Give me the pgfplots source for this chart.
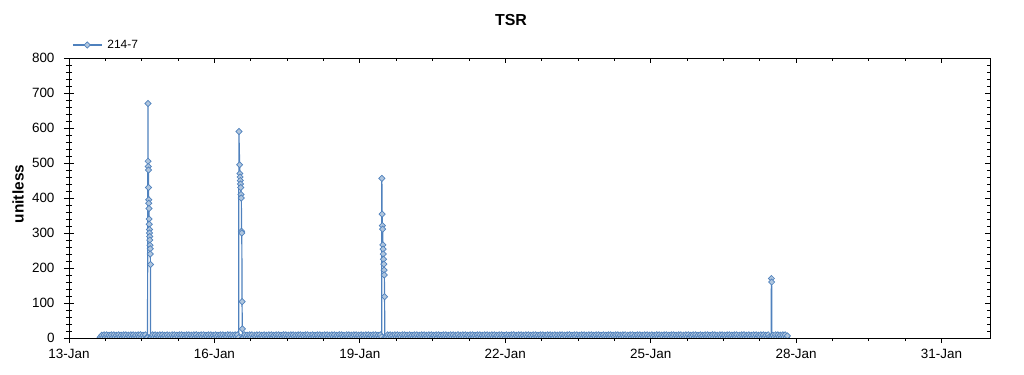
\documentclass[border=0pt]{standalone}
\usepackage{pgfplots}
\pgfplotsset{compat=1.18}
\usepackage{fontspec}
\setmainfont{Liberation Sans}
\definecolor{serblue}{RGB}{79,129,189}
\definecolor{serfill}{RGB}{176,198,222}
\begin{document}
\begin{tikzpicture}
\begin{axis}[
  scale only axis, width=921bp, height=280bp,
  xmin=13, xmax=32, ymin=0, ymax=800,
  xtick={13,16,19,22,25,28,31}, xticklabels={}, minor x tick num=3,
  ytick={0,100,...,800}, yticklabels={}, minor y tick num=4,
  xtick pos=right, ytick pos=both, tick align=inside,
  major tick length=5bp, minor tick length=3bp,
  tick style={black, line width=0.8bp},
  axis line style={black, line width=0.8bp},
]
\end{axis}
\begin{axis}[
  set layers, mark layer=pre main,
  clip mode=individual, clip marker paths=true,
  scale only axis, width=921bp, height=280bp,
  xmin=13, xmax=32, ymin=0, ymax=800,
  xtick={13,16,19,22,25,28,31},
  xticklabels={13-Jan,16-Jan,19-Jan,22-Jan,25-Jan,28-Jan,31-Jan},
  minor x tick num=3,
  ytick={0,100,...,800}, minor y tick num=4,
  xtick pos=left, ytick pos=left, tick align=outside,
  major tick length=5bp, minor tick length=3bp,
  tick style={black, line width=0.8bp},
  axis line style={black, line width=0.8bp},
  ticklabel style={font=\fontsize{13.5}{15}\selectfont},
  yticklabel style={xshift=-6bp},
  xticklabel style={yshift=-3bp},
  /pgf/number format/assume math mode=true,
  legend style={at={(0,1)}, anchor=west, draw=none, fill=none, yshift=13bp, xshift=0bp,
    font=\fontsize{12}{14}\selectfont, /tikz/column sep=3bp},
  legend image code/.code={\draw[mark repeat=2,mark phase=2,#1] plot coordinates {(0bp,0bp) (14.5bp,0bp) (29bp,0bp)};},
]
\addplot[color=serblue, line width=1.2bp, mark=square*, mark size=2.2bp,
  mark options={rotate=45, fill=serfill, draw=serblue, line width=0.7bp}]
coordinates {
(13.640,0)(13.650,3)(13.675,8)(13.700,1)(13.725,9)(13.750,2)(13.775,9)(13.800,1)(13.825,8)(13.850,3)(13.875,9)(13.900,1)(13.925,9)(13.950,2)(13.975,8)
(14.000,1)(14.025,9)(14.050,3)(14.075,8)(14.100,1)(14.125,9)(14.150,2)(14.175,9)(14.200,1)(14.225,8)(14.250,3)(14.275,9)(14.300,1)(14.325,9)(14.350,2)(14.375,8)(14.400,1)(14.425,9)(14.450,3)(14.475,9)(14.500,1)(14.525,8)(14.550,2)(14.575,9)(14.600,1)(14.620,1)
(14.629,670)(14.632,505)(14.635,490)(14.638,480)(14.641,430)(14.644,395)(14.647,385)(14.650,370)(14.653,340)(14.656,325)(14.659,310)(14.662,300)(14.665,290)(14.668,280)(14.671,265)(14.674,255)(14.677,240)(14.680,210)(14.683,1)
(14.700,1)(14.725,9)(14.750,2)(14.775,9)(14.800,1)(14.825,8)(14.850,3)(14.875,9)(14.900,1)(14.925,9)(14.950,2)(14.975,8)
(15.000,1)(15.025,9)(15.050,3)(15.075,8)(15.100,1)(15.125,9)(15.150,2)(15.175,9)(15.200,1)(15.225,8)(15.250,3)(15.275,9)(15.300,1)(15.325,9)(15.350,2)(15.375,8)(15.400,1)(15.425,9)(15.450,3)(15.475,9)(15.500,1)(15.525,8)(15.550,2)(15.575,9)(15.600,1)(15.625,9)(15.650,3)(15.675,8)(15.700,1)(15.725,9)(15.750,2)(15.775,9)(15.800,1)(15.825,8)(15.850,3)(15.875,9)(15.900,1)(15.925,9)(15.950,2)(15.975,8)
(16.000,1)(16.025,9)(16.050,3)(16.075,8)(16.100,1)(16.125,9)(16.150,2)(16.175,9)(16.200,1)(16.225,8)(16.250,3)(16.275,9)(16.300,1)(16.325,9)(16.350,2)(16.375,8)(16.400,1)(16.425,9)(16.450,3)(16.475,9)(16.500,1)
(16.505,590)(16.52,495)(16.525,470)(16.53,460)(16.535,450)(16.54,440)(16.545,430)(16.55,410)(16.555,400)(16.56,305)(16.565,300)(16.57,104)(16.575,26)(16.58,1)
(16.600,1)(16.625,9)(16.650,3)(16.675,8)(16.700,1)(16.725,9)(16.750,2)(16.775,9)(16.800,1)(16.825,8)(16.850,3)(16.875,9)(16.900,1)(16.925,9)(16.950,2)(16.975,8)
(17.000,1)(17.025,9)(17.050,3)(17.075,8)(17.100,1)(17.125,9)(17.150,2)(17.175,9)(17.200,1)(17.225,8)(17.250,3)(17.275,9)(17.300,1)(17.325,9)(17.350,2)(17.375,8)(17.400,1)(17.425,9)(17.450,3)(17.475,9)(17.500,1)(17.525,8)(17.550,2)(17.575,9)(17.600,1)(17.625,9)(17.650,3)(17.675,8)(17.700,1)(17.725,9)(17.750,2)(17.775,9)(17.800,1)(17.825,8)(17.850,3)(17.875,9)(17.900,1)(17.925,9)(17.950,2)(17.975,8)
(18.000,1)(18.025,9)(18.050,3)(18.075,8)(18.100,1)(18.125,9)(18.150,2)(18.175,9)(18.200,1)(18.225,8)(18.250,3)(18.275,9)(18.300,1)(18.325,9)(18.350,2)(18.375,8)(18.400,1)(18.425,9)(18.450,3)(18.475,9)(18.500,1)(18.525,8)(18.550,2)(18.575,9)(18.600,1)(18.625,9)(18.650,3)(18.675,8)(18.700,1)(18.725,9)(18.750,2)(18.775,9)(18.800,1)(18.825,8)(18.850,3)(18.875,9)(18.900,1)(18.925,9)(18.950,2)(18.975,8)
(19.000,1)(19.025,9)(19.050,3)(19.075,8)(19.100,1)(19.125,9)(19.150,2)(19.175,9)(19.200,1)(19.225,8)(19.250,3)(19.275,9)(19.300,1)(19.325,9)(19.350,2)(19.375,8)(19.400,1)(19.425,9)(19.450,3)
(19.454,456)(19.46,354)(19.465,321)(19.47,311)(19.475,266)(19.48,254)(19.485,240)(19.49,225)(19.495,211)(19.5,194)(19.505,180)(19.51,118)(19.515,1)
(19.550,2)(19.575,9)(19.600,1)(19.625,9)(19.650,3)(19.675,8)(19.700,1)(19.725,9)(19.750,2)(19.775,9)(19.800,1)(19.825,8)(19.850,3)(19.875,9)(19.900,1)(19.925,9)(19.950,2)(19.975,8)
(20.000,1)(20.025,9)(20.050,3)(20.075,8)(20.100,1)(20.125,9)(20.150,2)(20.175,9)(20.200,1)(20.225,8)(20.250,3)(20.275,9)(20.300,1)(20.325,9)(20.350,2)(20.375,8)(20.400,1)(20.425,9)(20.450,3)(20.475,9)(20.500,1)(20.525,8)(20.550,2)(20.575,9)(20.600,1)(20.625,9)(20.650,3)(20.675,8)(20.700,1)(20.725,9)(20.750,2)(20.775,9)(20.800,1)(20.825,8)(20.850,3)(20.875,9)(20.900,1)(20.925,9)(20.950,2)(20.975,8)
(21.000,1)(21.025,9)(21.050,3)(21.075,8)(21.100,1)(21.125,9)(21.150,2)(21.175,9)(21.200,1)(21.225,8)(21.250,3)(21.275,9)(21.300,1)(21.325,9)(21.350,2)(21.375,8)(21.400,1)(21.425,9)(21.450,3)(21.475,9)(21.500,1)(21.525,8)(21.550,2)(21.575,9)(21.600,1)(21.625,9)(21.650,3)(21.675,8)(21.700,1)(21.725,9)(21.750,2)(21.775,9)(21.800,1)(21.825,8)(21.850,3)(21.875,9)(21.900,1)(21.925,9)(21.950,2)(21.975,8)
(22.000,1)(22.025,9)(22.050,3)(22.075,8)(22.100,1)(22.125,9)(22.150,2)(22.175,9)(22.200,1)(22.225,8)(22.250,3)(22.275,9)(22.300,1)(22.325,9)(22.350,2)(22.375,8)(22.400,1)(22.425,9)(22.450,3)(22.475,9)(22.500,1)(22.525,8)(22.550,2)(22.575,9)(22.600,1)(22.625,9)(22.650,3)(22.675,8)(22.700,1)(22.725,9)(22.750,2)(22.775,9)(22.800,1)(22.825,8)(22.850,3)(22.875,9)(22.900,1)(22.925,9)(22.950,2)(22.975,8)
(23.000,1)(23.025,9)(23.050,3)(23.075,8)(23.100,1)(23.125,9)(23.150,2)(23.175,9)(23.200,1)(23.225,8)(23.250,3)(23.275,9)(23.300,1)(23.325,9)(23.350,2)(23.375,8)(23.400,1)(23.425,9)(23.450,3)(23.475,9)(23.500,1)(23.525,8)(23.550,2)(23.575,9)(23.600,1)(23.625,9)(23.650,3)(23.675,8)(23.700,1)(23.725,9)(23.750,2)(23.775,9)(23.800,1)(23.825,8)(23.850,3)(23.875,9)(23.900,1)(23.925,9)(23.950,2)(23.975,8)
(24.000,1)(24.025,9)(24.050,3)(24.075,8)(24.100,1)(24.125,9)(24.150,2)(24.175,9)(24.200,1)(24.225,8)(24.250,3)(24.275,9)(24.300,1)(24.325,9)(24.350,2)(24.375,8)(24.400,1)(24.425,9)(24.450,3)(24.475,9)(24.500,1)(24.525,8)(24.550,2)(24.575,9)(24.600,1)(24.625,9)(24.650,3)(24.675,8)(24.700,1)(24.725,9)(24.750,2)(24.775,9)(24.800,1)(24.825,8)(24.850,3)(24.875,9)(24.900,1)(24.925,9)(24.950,2)(24.975,8)
(25.000,1)(25.025,9)(25.050,3)(25.075,8)(25.100,1)(25.125,9)(25.150,2)(25.175,9)(25.200,1)(25.225,8)(25.250,3)(25.275,9)(25.300,1)(25.325,9)(25.350,2)(25.375,8)(25.400,1)(25.425,9)(25.450,3)(25.475,9)(25.500,1)(25.525,8)(25.550,2)(25.575,9)(25.600,1)(25.625,9)(25.650,3)(25.675,8)(25.700,1)(25.725,9)(25.750,2)(25.775,9)(25.800,1)(25.825,8)(25.850,3)(25.875,9)(25.900,1)(25.925,9)(25.950,2)(25.975,8)
(26.000,1)(26.025,9)(26.050,3)(26.075,8)(26.100,1)(26.125,9)(26.150,2)(26.175,9)(26.200,1)(26.225,8)(26.250,3)(26.275,9)(26.300,1)(26.325,9)(26.350,2)(26.375,8)(26.400,1)(26.425,9)(26.450,3)(26.475,9)(26.500,1)(26.525,8)(26.550,2)(26.575,9)(26.600,1)(26.625,9)(26.650,3)(26.675,8)(26.700,1)(26.725,9)(26.750,2)(26.775,9)(26.800,1)(26.825,8)(26.850,3)(26.875,9)(26.900,1)(26.925,9)(26.950,2)(26.975,8)
(27.000,1)(27.025,9)(27.050,3)(27.075,8)(27.100,1)(27.125,9)(27.150,2)(27.175,9)(27.200,1)(27.225,8)(27.250,3)(27.275,9)(27.300,1)(27.325,9)(27.350,2)(27.375,8)(27.400,1)(27.425,9)(27.450,3)(27.485,1)
(27.49,170)(27.495,160)(27.5,1)
(27.525,8)(27.550,2)(27.575,9)(27.600,1)(27.625,9)(27.650,3)(27.675,8)(27.700,1)(27.725,9)(27.750,2)(27.775,9)(27.800,1)(27.820,6)
};
\addlegendentry{214-7}
\end{axis}
\node[font=\bfseries\fontsize{16}{18}\selectfont] at (442bp,318bp) {TSR};
\node[rotate=90, font=\bfseries\fontsize{15.5}{17}\selectfont] at (-51bp,144bp) {unitless};
\pgfresetboundingbox
\path[use as bounding box] (-69bp,-37bp) rectangle (955bp,338bp);
\end{tikzpicture}
\end{document}
